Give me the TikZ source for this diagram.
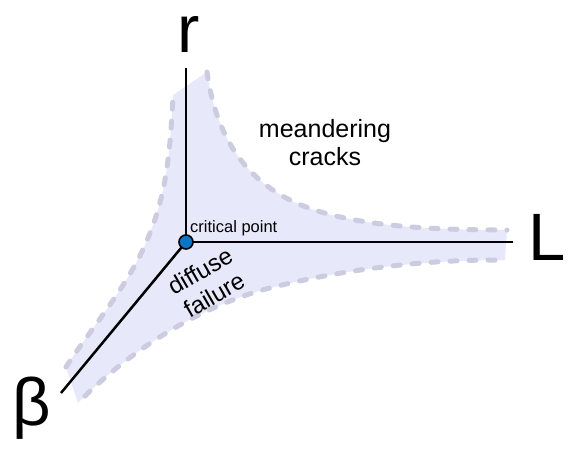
\documentclass[tikz,border=0pt]{standalone}
\usepackage{fontspec}
\setmainfont{Liberation Sans}
\usetikzlibrary{positioning}
\definecolor{regfill}{RGB}{231,232,249}
\definecolor{regedge}{RGB}{204,204,224}
\definecolor{dotblue}{RGB}{10,118,200}

\begin{document}
\begin{tikzpicture}[x=1pt,y=-1pt,
    axis line/.style={line width=2.5pt,black},
    edge line/.style={line width=5pt,regedge,dash pattern=on 7pt off 12pt,line cap=round},
    big label/.style={font=\fontsize{67}{70}\selectfont,inner sep=0pt},
    region text/.style={font=\fontsize{25}{28}\selectfont,align=center,inner sep=0pt},
    crit node/.style={circle,draw,line width=1.6pt,fill=dotblue,minimum size=14pt,inner sep=0pt}]
  \useasboundingbox (0,0) rectangle (581,461);
  % shaded region between the three arms
  \fill[regfill] (173,95) -- (207,72) .. controls (215,130) and (240,175) .. (290,200)
     .. controls (340,225) and (420,230) .. (507,230) -- (505,260)
     .. controls (420,260) and (340,270) .. (270,288)
     .. controls (200,306) and (130,350) .. (78,403) -- (66,367)
     .. controls (90,330) and (125,290) .. (145,245)
     .. controls (165,200) and (170,160) .. cycle;
  \draw[edge line] (207,72) .. controls (215,130) and (240,175) .. (290,200)
     .. controls (340,225) and (420,230) .. (507,230);
  \draw[edge line] (495,260) .. controls (420,260) and (340,270) .. (270,288)
     .. controls (200,306) and (130,350) .. (78,403);
  \draw[edge line] (66,367) .. controls (90,330) and (125,290) .. (145,245)
     .. controls (165,200) and (170,160) .. (173,95);
  % axes
  \coordinate (rtip) at (186,68);
  \coordinate (Ltip) at (513,242);
  \coordinate (btip) at (61,393);
  \coordinate (c0) at (186,242);
  \draw[axis line] (c0) -- (rtip);
  \draw[axis line] (c0) -- (Ltip);
  \draw[axis line] (c0) -- (btip);
  \node[crit node] (c) at (c0) {};
  % labels
  \node[big label,anchor=base] (r) at (189,52) {r};
  \node[big label,anchor=base west] (L) at (528,260) {L};
  \node[big label,anchor=base west] (beta) at (12,425) {β};
  \node[font=\fontsize{16.5}{18}\selectfont,inner sep=0pt,anchor=base west] (cp) at (190,232) {critical point};
  \node[region text] (mc) at (325,143) {meandering\\cracks};
  \node[region text,font=\fontsize{24}{28}\selectfont,rotate=30] (df) at (207,283) {diffuse\\failure};
\end{tikzpicture}
\end{document}
